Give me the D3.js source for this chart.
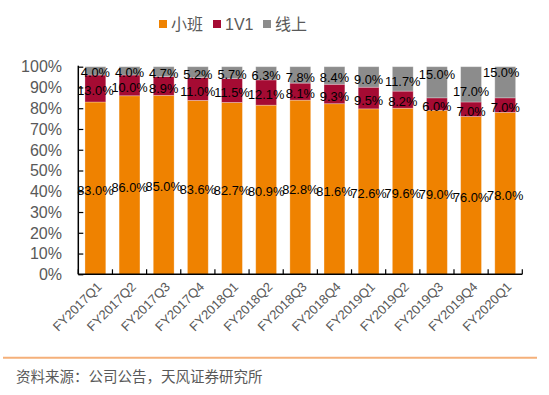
<!DOCTYPE html>
<html><head><meta charset="utf-8">
<script src="https://cdn.jsdelivr.net/npm/d3@7"></script>
<style>body{margin:0;background:#fff}svg{display:block}text{font-family:Arial,"Liberation Sans","Noto Sans CJK SC",sans-serif}</style>
</head><body>
<svg id="c" width="549" height="395"></svg>
<script>
const categories = ["FY2017Q1","FY2017Q2","FY2017Q3","FY2017Q4","FY2018Q1","FY2018Q2","FY2018Q3","FY2018Q4","FY2019Q1","FY2019Q2","FY2019Q3","FY2019Q4","FY2020Q1"];
const smallClass = [83.0,86.0,85.0,83.6,82.7,80.9,82.8,81.6,72.6,79.6,79.0,76.0,78.0];
const oneOnOne  = [13.0,10.0,8.9,11.0,11.5,12.1,8.1,9.3,9.5,8.2,6.0,7.0,7.0];
const online    = [4.0,4.0,4.7,5.2,5.7,6.3,7.8,8.4,9.0,11.7,15.0,17.0,15.0];
const seriesNames = ["小班","1V1","线上"];
const yTicks = [0,0.1,0.2,0.3,0.4,0.5,0.6,0.7,0.8,0.9,1.0];
const sourceText = "资料来源：公司公告，天风证券研究所";

const colors = ["#EF8200","#A50B33","#8C8C8C"];
const keys = ["s","o","n"];
const rows = categories.map((c,i)=>({cat:c,s:smallClass[i],o:oneOnOne[i],n:online[i]}));
const stack = d3.stack().keys(keys).offset(d3.stackOffsetExpand)(rows);

const svg = d3.select("#c");
const x0=78.3, x1=522.3, yb=274.3, yt=66.7;
const x = d3.scaleBand().domain(categories).range([x0,x1]).paddingInner(0.39).paddingOuter(0.195);
const xb = d3.scaleBand().domain(categories).range([x0,x1]);
const y = d3.scaleLinear().domain([0,1]).range([yb,yt]);

// bars
const g = svg.append("g");
stack.forEach((layer,li)=>{
  g.selectAll(null).data(layer).enter().append("rect")
    .attr("x",d=>x(d.data.cat)).attr("width",x.bandwidth())
    .attr("y",d=>y(d[1])).attr("height",d=>y(d[0])-y(d[1]))
    .attr("fill",colors[li]).attr("stroke","#fff").attr("stroke-opacity",0.35).attr("stroke-width",0.8);
});

// axes
const ya = svg.append("g").attr("transform",`translate(${x0},0)`)
  .call(d3.axisRight(y).tickValues(yTicks).tickSize(5).tickFormat(""));
ya.select(".domain").attr("d",`M0,${yt-1}V${yb}`).attr("stroke","#000").attr("stroke-width",1.5);
ya.selectAll(".tick line").attr("stroke","#000").attr("stroke-width",1.2);
svg.append("g").selectAll("text").data(yTicks).enter().append("text")
  .attr("x",62).attr("y",d=>y(d)).attr("dy","0.36em").attr("text-anchor","end")
  .attr("font-size",16).attr("fill","#595959").text(d=>Math.round(d*100)+"%");

const xa = svg.append("g").attr("transform",`translate(0,${yb})`);
xa.append("line").attr("x1",x0).attr("x2",x1).attr("stroke","#000").attr("stroke-width",1.5);
const bounds = categories.map(c=>xb(c)).concat([x1]);
xa.selectAll(".tk").data(bounds).enter().append("line")
  .attr("x1",d=>d).attr("x2",d=>d).attr("y1",0).attr("y2",-5).attr("stroke","#000").attr("stroke-width",1.2);

svg.append("g").selectAll("text").data(categories).enter().append("text")
  .attr("transform",d=>`translate(${x(d)+x.bandwidth()/2+4},${yb+10}) rotate(-45)`)
  .attr("text-anchor","end").attr("dy","0.35em")
  .attr("font-size",13).attr("fill","#595959").text(d=>d);

// labels
const nudge = {"FY2019Q3":{dx:0,dy:-10},"FY2019Q4":{dx:0,dy:5},"FY2020Q1":{dx:-4,dy:-12}};
const raw = [smallClass,oneOnOne,online];
stack.forEach((layer,li)=>{
  svg.append("g").selectAll("text").data(layer).enter().append("text")
    .attr("x",(d)=>x(d.data.cat)+x.bandwidth()/2 + (li===2&&nudge[d.data.cat]?nudge[d.data.cat].dx:0))
    .attr("y",(d)=>y((d[0]+d[1])/2)+2 + (li===2&&nudge[d.data.cat]?nudge[d.data.cat].dy:0))
    .attr("dy","0.36em").attr("text-anchor","middle")
    .attr("font-size",12.8).attr("fill","#000")
    .text((d,i)=>raw[li][i].toFixed(1)+"%");
});

// legend
const leg = svg.append("g");
const legX = [159,213,263];
seriesNames.forEach((n,i)=>{
  leg.append("rect").attr("x",legX[i]).attr("y",20).attr("width",8).attr("height",8).attr("fill",colors[i]);
  leg.append("text").attr("x",legX[i]+12).attr("y",24).attr("dy","0.36em")
    .attr("font-size",16).attr("fill","#595959").text(n);
});

// footer
svg.append("line").attr("x1",3).attr("x2",537).attr("y1",357.7).attr("y2",357.7)
  .attr("stroke","#F5B07A").attr("stroke-width",2);
svg.append("text").attr("x",16).attr("y",377).attr("dy","0.36em")
  .attr("font-size",14.5).attr("fill","#595959").text(sourceText);
</script>
</body></html>
